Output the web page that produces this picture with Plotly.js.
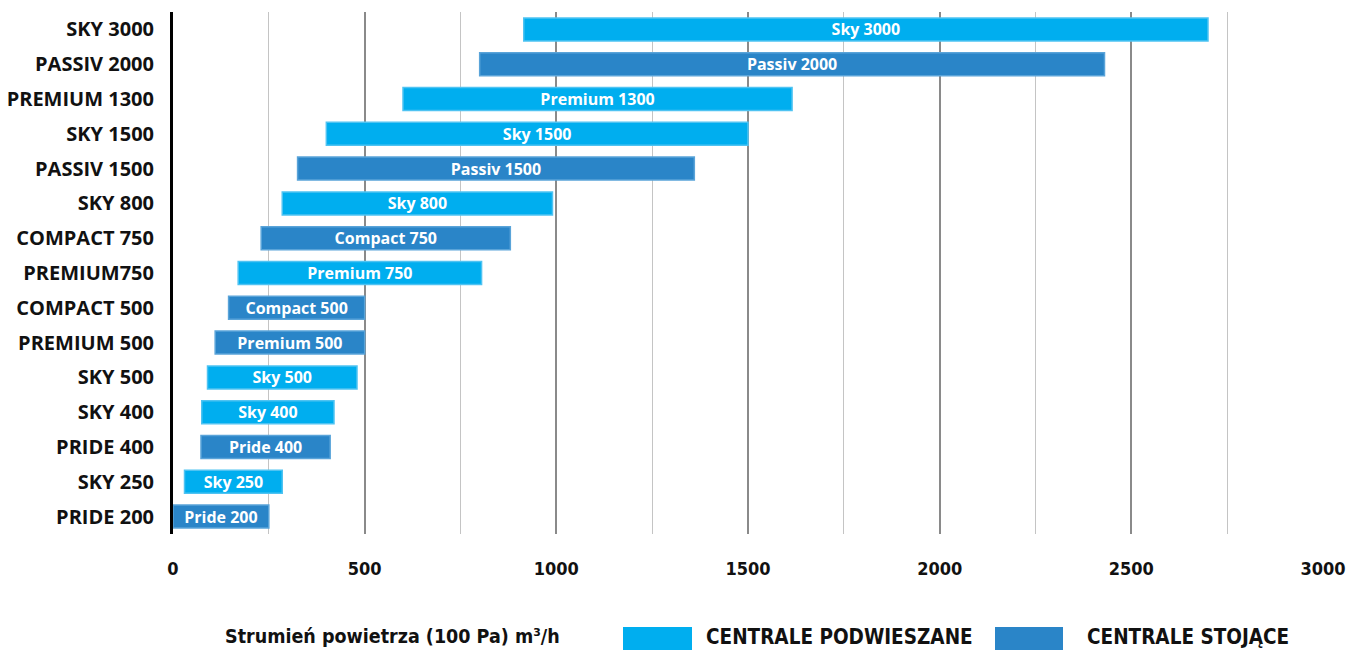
<!DOCTYPE html>
<html><head><meta charset="utf-8">
<script src="https://cdn.plot.ly/plotly-3.0.1.min.js"></script>
<style>html,body{margin:0;padding:0;background:#fff}#chart{width:1349px;height:650px}</style>
</head><body><div id="chart"></div>
<script>
// categories top to bottom
const categories = ["SKY 3000","PASSIV 2000","PREMIUM 1300","SKY 1500","PASSIV 1500","SKY 800","COMPACT 750","PREMIUM750","COMPACT 500","PREMIUM 500","SKY 500","SKY 400","PRIDE 400","SKY 250","PRIDE 200"];
const barLabels = ["Sky 3000","Passiv 2000","Premium 1300","Sky 1500","Passiv 1500","Sky 800","Compact 750","Premium 750","Compact 500","Premium 500","Sky 500","Sky 400","Pride 400","Sky 250","Pride 200"];
const flowMin = [915,800,600,400,325,285,230,170,145,110,90,75,73,30,0];
const flowMax = [2700,2430,1615,1500,1360,990,880,805,500,500,480,420,410,285,250];
const group = ["P","S","P","P","S","P","S","P","S","S","P","P","S","P","S"]; // P = podwieszane, S = stojące
const groupNames = {P:"CENTRALE PODWIESZANE", S:"CENTRALE STOJĄCE"};
const xTicks = [0,500,1000,1500,2000,2500,3000];

const colors = {P:"#00AEEF", S:"#2A85C8"};
const borders = {P:"#4FC3F2", S:"#5AA4D9"};

function trace(g){
  const idx = categories.map((c,i)=>i).filter(i=>group[i]===g);
  return {
    type:"bar", orientation:"h", name:groupNames[g],
    y: idx.map(i=>categories[i]),
    base: idx.map(i=>flowMin[i]),
    x: idx.map(i=>flowMax[i]-flowMin[i]),
    text: idx.map(i=>barLabels[i]),
    textposition:"inside", insidetextanchor:"middle",
    textfont:{family:"Open Sans", size:16, color:"#fff", weight:700},
    constraintext:"none",
    marker:{color:colors[g], line:{color:borders[g], width:1.5}},
    width:0.66, hoverinfo:"skip", showlegend:false
  };
}

const layout = {
  width:1349, height:650,
  margin:{l:173, r:26, t:12, b:116},
  paper_bgcolor:"#fff", plot_bgcolor:"#fff",
  barmode:"overlay",
  font:{family:"Open Sans", color:"#111"},
  xaxis:{
    range:[0,3000], tickvals:xTicks, ticktext:xTicks.map(String),
    showgrid:true, gridcolor:"#8a8a8a", gridwidth:2,
    minor:{dtick:250, showgrid:true, gridcolor:"#c4c4c4", gridwidth:1},
    zeroline:false, showline:false,
    ticks:"outside", ticklen:18, tickcolor:"rgba(0,0,0,0)",
    tickfont:{family:"DejaVu Sans Condensed", size:18, color:"#111", weight:700},
    fixedrange:true
  },
  yaxis:{
    type:"category", categoryorder:"array", categoryarray:categories.slice().reverse(),
    range:[-0.5,14.5],
    showline:true, linecolor:"#000", linewidth:3, showgrid:false, zeroline:false,
    ticks:"outside", ticklen:12, tickcolor:"rgba(0,0,0,0)",
    tickfont:{family:"Open Sans", size:20, color:"#111", weight:700},
    fixedrange:true
  },
  shapes:[
    {type:"rect", xref:"paper", yref:"paper", x0:(623-173)/1150, x1:(692-173)/1150, y0:(534-650)/522, y1:(534-627)/522, fillcolor:colors.P, line:{width:0}},
    {type:"rect", xref:"paper", yref:"paper", x0:(995-173)/1150, x1:(1063-173)/1150, y0:(534-650)/522, y1:(534-627)/522, fillcolor:colors.S, line:{width:0}}
  ],
  annotations:[
    {xref:"paper", yref:"paper", x:(392-173)/1150, y:(534-636)/522, text:"Strumień powietrza (100 Pa) m³/h", showarrow:false, xanchor:"center", yanchor:"middle", font:{family:"DejaVu Sans Condensed", size:19.5, color:"#111", weight:700}},
    {xref:"paper", yref:"paper", x:(704-173)/1150, y:(534-637)/522, text:groupNames.P, showarrow:false, xanchor:"left", yanchor:"middle", font:{family:"DejaVu Sans Condensed", size:20.5, color:"#111", weight:700}},
    {xref:"paper", yref:"paper", x:(1085-173)/1150, y:(534-637)/522, text:groupNames.S, showarrow:false, xanchor:"left", yanchor:"middle", font:{family:"DejaVu Sans Condensed", size:20.5, color:"#111", weight:700}}
  ]
};

Plotly.newPlot("chart", [trace("P"), trace("S")], layout, {displayModeBar:false, staticPlot:true});
</script></body></html>
